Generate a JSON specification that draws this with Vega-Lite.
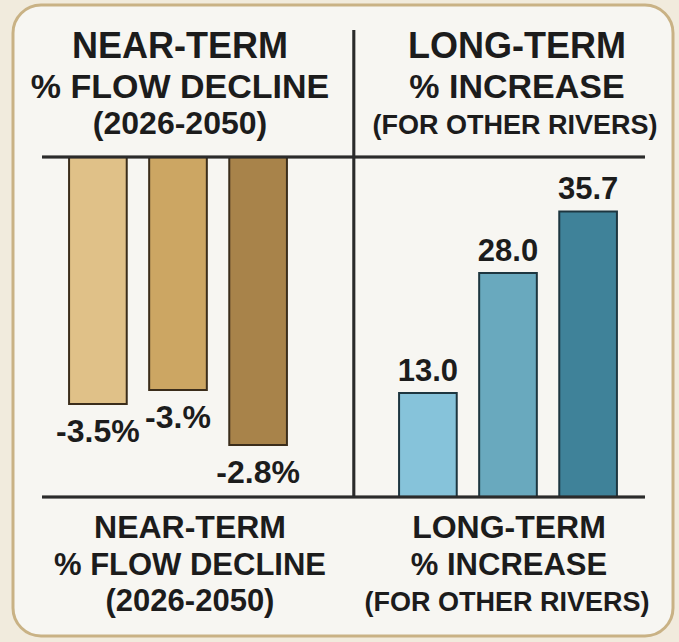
{
  "$schema": "https://vega.github.io/schema/vega-lite/v6.json",
  "width": 679,
  "height": 642,
  "autosize": {"type": "fit", "contains": "padding"},
  "padding": {"left": 13, "top": 5, "right": 6, "bottom": 6},
  "background": "#F1EBDD",
  "config": {
    "view": {"fill": "#F7F6F2", "stroke": "#C9B285", "strokeWidth": 3, "cornerRadius": 28},
    "text": {"font": "Liberation Sans", "fontWeight": "bold", "color": "#1c1c1c", "baseline": "alphabetic"}
  },
  "datasets": {
    "near": [
      {"panel": "near", "rank": 1, "bar": "N1", "label": "-3.5%", "value": -3.5},
      {"panel": "near", "rank": 2, "bar": "N2", "label": "-3.%", "value": -3.3},
      {"panel": "near", "rank": 3, "bar": "N3", "label": "-2.8%", "value": -4.08}
    ],
    "long": [
      {"panel": "long", "rank": 1, "bar": "L1", "label": "13.0", "value": 13.0},
      {"panel": "long", "rank": 2, "bar": "L2", "label": "28.0", "value": 28.0},
      {"panel": "long", "rank": 3, "bar": "L3", "label": "35.7", "value": 35.7}
    ],
    "headers": [
      {"panel": "near", "l1": "NEAR-TERM", "l2": "% FLOW DECLINE", "l3": "(2026-2050)"},
      {"panel": "long", "l1": "LONG-TERM", "l2": "% INCREASE", "l3": "(FOR OTHER RIVERS)"}
    ]
  },
  "encoding": {
    "x": {"field": "panel", "type": "nominal", "scale": {"domain": ["near", "long"], "paddingInner": 0, "paddingOuter": 0}, "axis": null}
  },
  "layer": [
    {
      "data": {"name": "near"},
      "layer": [
        {
          "mark": {"type": "bar", "stroke": "#3b2d1b", "strokeWidth": 2},
          "encoding": {
            "y": {"field": "value", "type": "quantitative", "scale": {"domain": [-6.7847, 2.153], "nice": false, "zero": false}, "axis": null},
            "xOffset": {"field": "rank", "type": "ordinal", "scale": {"domain": [1, 2, 3], "paddingInner": 0.28, "paddingOuter": 0.7}},
            "color": {"field": "bar", "type": "nominal", "scale": {"domain": ["N1", "N2", "N3", "L1", "L2", "L3"], "range": ["#E0C188", "#CCA663", "#A8834A", "#86C3DA", "#69A9BE", "#3F8299"]}, "legend": null}
          }
        },
        {
          "mark": {"type": "text", "fontSize": 32, "dy": 38},
          "encoding": {
            "y": {"field": "value", "type": "quantitative"},
            "xOffset": {"field": "rank", "type": "ordinal"},
            "text": {"field": "label"}
          }
        },
        {
          "mark": {"type": "rule", "color": "#2b2b2b", "strokeWidth": 2.5},
          "encoding": {
            "x": {"datum": "near", "bandPosition": 0.088},
            "x2": {"datum": "long", "bandPosition": 0.915},
            "y": {"datum": 0}
          }
        },
        {
          "mark": {"type": "rule", "color": "#2b2b2b", "strokeWidth": 2.5},
          "encoding": {
            "x": {"datum": "long", "bandPosition": 0.033},
            "y": {"datum": 1.799},
            "y2": {"datum": -4.816}
          }
        },
        {
          "data": {"name": "headers"},
          "transform": [{"filter": "datum.panel === 'near'"}],
          "layer": [
            {"mark": {"type": "text", "fontSize": 36, "dx": 2}, "encoding": {"y": {"datum": 1.402}, "text": {"field": "l1"}}},
            {"mark": {"type": "text", "fontSize": 34, "dx": 2}, "encoding": {"y": {"datum": 0.836}, "text": {"field": "l2"}}},
            {"mark": {"type": "text", "fontSize": 32, "dx": 2}, "encoding": {"y": {"datum": 0.326}, "text": {"field": "l3"}}},
            {"mark": {"type": "text", "fontSize": 32, "dx": 12}, "encoding": {"y": {"datum": -5.397}, "text": {"field": "l1"}}},
            {"mark": {"type": "text", "fontSize": 31, "dx": 12}, "encoding": {"y": {"datum": -5.921}, "text": {"field": "l2"}}},
            {"mark": {"type": "text", "fontSize": 31, "dx": 12}, "encoding": {"y": {"datum": -6.431}, "text": {"field": "l3"}}}
          ]
        },
        {
          "data": {"name": "headers"},
          "transform": [{"filter": "datum.panel === 'long'"}],
          "layer": [
            {"mark": {"type": "text", "fontSize": 36, "dx": 9}, "encoding": {"y": {"datum": 1.402}, "text": {"field": "l1"}}},
            {"mark": {"type": "text", "fontSize": 34, "dx": 9}, "encoding": {"y": {"datum": 0.836}, "text": {"field": "l2"}}},
            {"mark": {"type": "text", "fontSize": 27, "dx": 7}, "encoding": {"y": {"datum": 0.326}, "text": {"field": "l3"}}},
            {"mark": {"type": "text", "fontSize": 32, "dx": 1}, "encoding": {"y": {"datum": -5.397}, "text": {"field": "l1"}}},
            {"mark": {"type": "text", "fontSize": 31, "dx": 1}, "encoding": {"y": {"datum": -5.921}, "text": {"field": "l2"}}},
            {"mark": {"type": "text", "fontSize": 27, "dx": -1}, "encoding": {"y": {"datum": -6.431}, "text": {"field": "l3"}}}
          ]
        }
      ]
    },
    {
      "data": {"name": "long"},
      "layer": [
        {
          "mark": {"type": "bar", "stroke": "#1d3640", "strokeWidth": 2},
          "encoding": {
            "y": {"field": "value", "type": "quantitative", "scale": {"domain": [-17.375, 61.5], "nice": false, "zero": false}, "axis": null},
            "xOffset": {"field": "rank", "type": "ordinal"},
            "color": {"field": "bar", "type": "nominal", "legend": null}
          }
        },
        {
          "mark": {"type": "text", "fontSize": 31, "dy": -12},
          "encoding": {
            "y": {"field": "value", "type": "quantitative"},
            "xOffset": {"field": "rank", "type": "ordinal"},
            "text": {"field": "label"}
          }
        },
        {
          "mark": {"type": "rule", "color": "#2b2b2b", "strokeWidth": 2.5},
          "encoding": {
            "x": {"datum": "near", "bandPosition": 0.088},
            "x2": {"datum": "long", "bandPosition": 0.915},
            "y": {"datum": 0}
          }
        }
      ]
    }
  ],
  "resolve": {"scale": {"y": "independent"}}
}
